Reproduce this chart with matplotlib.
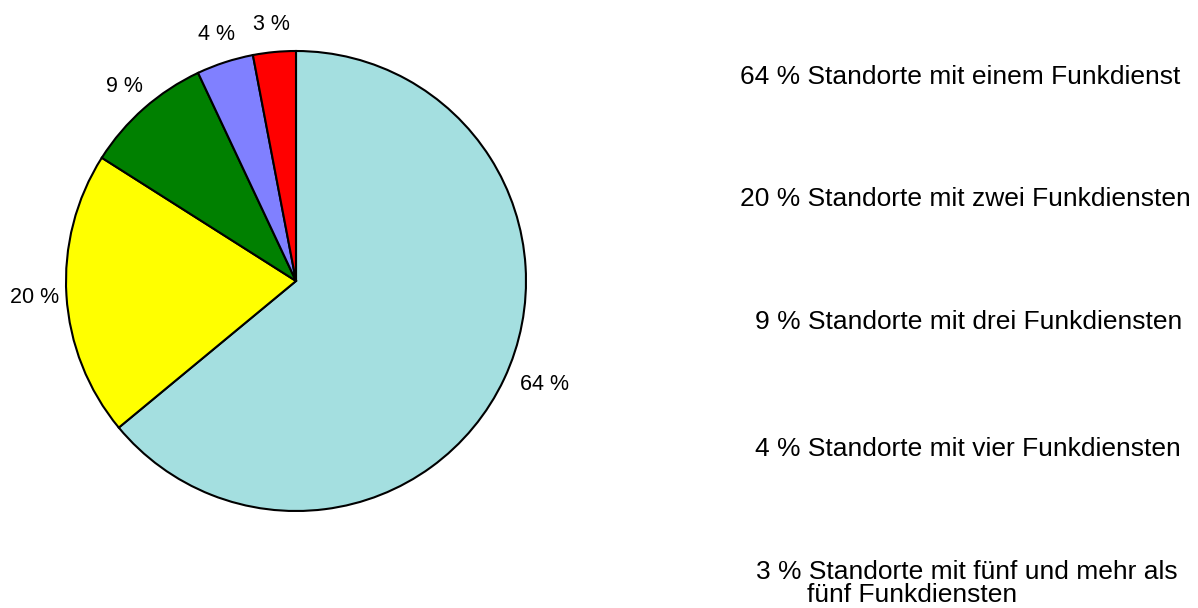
import numpy as np
import matplotlib
matplotlib.use("Agg")
import matplotlib.pyplot as plt

plt.rcParams['font.family'] = ['Liberation Sans', 'DejaVu Sans']

values = [64, 20, 9, 4, 3]
pct_labels = ["64 %", "20 %", "9 %", "4 %", "3 %"]
colors = ["#a4dfe0", "#ffff00", "#008000", "#8080ff", "#ff0000"]
legend_texts = [
    "64 % Standorte mit einem Funkdienst",
    "20 % Standorte mit zwei Funkdiensten",
    "9 % Standorte mit drei Funkdiensten",
    "4 % Standorte mit vier Funkdiensten",
    "3 % Standorte mit fünf und mehr als",
]
legend_cont = "fünf Funkdiensten"

W, H = 1198, 608
fig = plt.figure(figsize=(W / 100, H / 100), dpi=100)

cx, cy, R = 296, 281, 230
ax = fig.add_axes([(cx - R) / W, (H - cy - R) / H, 2 * R / W, 2 * R / H])
wedges, _ = ax.pie(values, colors=colors, startangle=90, counterclock=False,
                   radius=1.0,
                   wedgeprops=dict(edgecolor="black", linewidth=1.5))
ax.set_xlim(-1, 1)
ax.set_ylim(-1, 1)
ax.set_aspect("equal")
ax.axis("off")

label_r = [1.17, 1.14, 1.13, 1.125, 1.12]
label_da = [2.5, 0.0, 0.0, 0.0, 0.0]
for w, lab, r, da in zip(wedges, pct_labels, label_r, label_da):
    ang = np.deg2rad((w.theta1 + w.theta2) / 2 + da)
    ax.text(r * np.cos(ang), r * np.sin(ang), lab, ha="center", va="center",
            fontsize=15.5, clip_on=False)

# legend-like text column
leg_x = [740, 740, 755, 755, 756]
leg_y = [77, 199, 322, 449, 572]
for t, x, y in zip(legend_texts, leg_x, leg_y):
    fig.text(x / W, 1 - y / H, t, ha="left", va="center", fontsize=19)
fig.text(807 / W, 1 - 595 / H, legend_cont, ha="left", va="center", fontsize=19)

fig.savefig("out.png", dpi=100, facecolor="white")
